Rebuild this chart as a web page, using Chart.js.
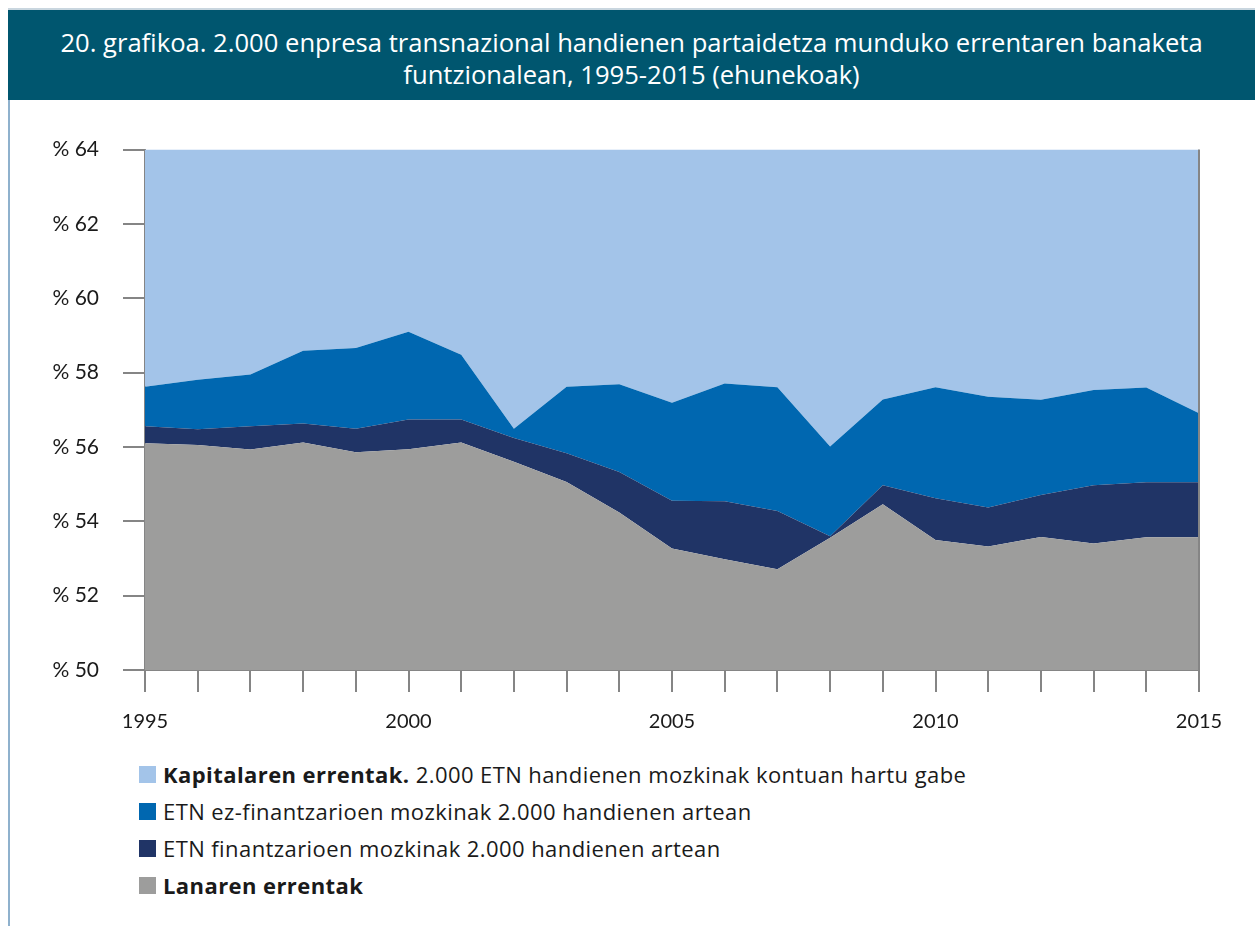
<!DOCTYPE html>
<html lang="eu">
<head>
<meta charset="UTF-8">
<title>20. grafikoa</title>
<script src="https://cdn.jsdelivr.net/npm/chart.js"></script>
<style>
    html, body { margin: 0; padding: 0; background: #ffffff; }
    body { width: 1255px; height: 926px; position: relative; overflow: hidden; font-family: "Open Sans", Lato, sans-serif; }
    .topline { position: absolute; left: 8px; right: 0; top: 8px; height: 2px; background: #c9d6df; }
    .titlebar {
        position: absolute; left: 8px; right: 0; top: 10px; height: 90px; box-sizing: border-box; padding-top: 7px;
        background: #00566f; color: #ffffff;
        display: flex; align-items: center; justify-content: center; text-align: center;
        font-size: 25.6px; line-height: 32px;
    }
    .sideline { position: absolute; left: 8px; top: 100px; width: 2px; bottom: 0; background: #8fb1cd; }
    .chart-box { position: absolute; left: 0; top: 113px; width: 1255px; height: 627px; }
    .legend { position: absolute; left: 139px; top: 756px; font-size: 22px; letter-spacing: 0.42px; color: #1a1a1a; }
    .legend div { height: 37px; line-height: 37px; display: flex; align-items: center; white-space: pre; }
    .legend span.sq { display: inline-block; width: 17px; height: 17px; margin-right: 7px; }
</style>
</head>
<body>
    <div class="topline"></div>
    <div class="titlebar">20. grafikoa. 2.000 enpresa transnazional handienen partaidetza munduko errentaren banaketa<br>funtzionalean, 1995-2015 (ehunekoak)</div>
    <div class="sideline"></div>
    <div class="chart-box"><canvas id="grafikoa"></canvas></div>
    <div class="legend" id="legenda"></div>
<script>
    const urteak = ['1995', '1996', '1997', '1998', '1999', '2000', '2001', '2002', '2003', '2004',
                    '2005', '2006', '2007', '2008', '2009', '2010', '2011', '2012', '2013', '2014', '2015'];

    // munduko errentaren banaketa (%), behetik gora pilatuta
    const lanarenErrentak = [56.10, 56.05, 55.93, 56.12, 55.86, 55.94, 56.12, 55.60, 55.06, 54.24,
                             53.27, 52.98, 52.71, 53.56, 54.46, 53.50, 53.32, 53.58, 53.40, 53.57, 53.57];
    const etnFinantzarioak = [0.46, 0.43, 0.63, 0.51, 0.63, 0.80, 0.62, 0.64, 0.77, 1.09,
                              1.28, 1.56, 1.57, 0.04, 0.51, 1.12, 1.05, 1.13, 1.57, 1.48, 1.48];
    const etnEzFinantzarioak = [1.06, 1.33, 1.39, 1.96, 2.17, 2.36, 1.74, 0.25, 1.79, 2.36,
                                2.64, 3.17, 3.33, 2.41, 2.31, 2.99, 2.98, 2.56, 2.56, 2.55, 1.86];
    const kapitalarenErrentak = [42.38, 42.19, 42.05, 41.41, 41.34, 40.90, 41.52, 43.51, 42.38, 42.31,
                                 42.81, 42.29, 42.39, 44.00, 42.72, 42.39, 42.65, 42.73, 42.47, 42.40, 43.09];

    const yTicks = [50, 52, 54, 56, 58, 60, 62, 64];

    const seriak = [
        { label: 'Lanaren errentak', data: lanarenErrentak, color: '#9d9d9c', bold: 'Lanaren errentak', rest: '' },
        { label: 'ETN finantzarioen mozkinak 2.000 handienen artean', data: etnFinantzarioak, color: '#203466', bold: '', rest: 'ETN finantzarioen mozkinak 2.000 handienen artean' },
        { label: 'ETN ez-finantzarioen mozkinak 2.000 handienen artean', data: etnEzFinantzarioak, color: '#0067b0', bold: '', rest: 'ETN ez-finantzarioen mozkinak 2.000 handienen artean' },
        { label: 'Kapitalaren errentak. 2.000 ETN handienen mozkinak kontuan hartu gabe', data: kapitalarenErrentak, color: '#a3c4e9', bold: 'Kapitalaren errentak.', rest: '2.000 ETN handienen mozkinak kontuan hartu gabe' }
    ];

    // legenda: goiko geruza lehenengo
    const legenda = document.getElementById('legenda');
    seriak.slice().reverse().forEach(s => {
        const row = document.createElement('div');
        const zatiak = [];
        if (s.bold) zatiak.push(`<b>${s.bold}</b>`);
        if (s.rest) zatiak.push(s.rest);
        row.innerHTML = `<span class="sq" style="background:${s.color}"></span>` + zatiak.join(' ');
        legenda.appendChild(row);
    });

    const ardatzKolorea = '#858585';

    // eskuineko ertza
    const ertzaPlugin = {
        id: 'ertza',
        afterDraw(chart) {
            const { ctx, chartArea } = chart;
            ctx.save();
            ctx.strokeStyle = ardatzKolorea;
            ctx.lineWidth = 2;
            ctx.beginPath();
            ctx.moveTo(chartArea.right, chartArea.top);
            ctx.lineTo(chartArea.right, chartArea.bottom);
            ctx.stroke();
            ctx.restore();
        }
    };

    new Chart(document.getElementById('grafikoa'), {
        type: 'line',
        data: {
            labels: urteak,
            datasets: seriak.map((s, i) => ({
                label: s.label,
                data: s.data,
                backgroundColor: s.color,
                borderColor: s.color,
                borderWidth: 0,
                pointRadius: 0,
                tension: 0,
                fill: i === 0 ? 'origin' : '-1'
            }))
        },
        options: {
            responsive: true,
            maintainAspectRatio: false,
            animation: false,
            layout: { padding: { top: 19, right: 56, left: 0, bottom: 0 } },
            plugins: {
                legend: { display: false },
                tooltip: { enabled: false }
            },
            scales: {
                x: {
                    offset: false,
                    afterFit(scale) { scale.height = 70; },
                    grid: { drawOnChartArea: false, tickLength: 22, color: ardatzKolorea, lineWidth: 2 },
                    border: { color: ardatzKolorea, width: 2 },
                    ticks: {
                        autoSkip: false,
                        maxRotation: 0,
                        padding: 18,
                        color: '#1a1a1a',
                        font: { family: 'Lato', size: 20 },
                        callback: function (v) {
                            const y = Number(this.getLabelForValue(v));
                            return y % 5 === 0 ? String(y) : '';
                        }
                    }
                },
                y: {
                    stacked: true,
                    min: 50,
                    max: 64,
                    afterFit(scale) { scale.width = 145; },
                    afterBuildTicks(scale) { scale.ticks = yTicks.map(v => ({ value: v })); },
                    grid: { drawOnChartArea: false, tickLength: 22, color: ardatzKolorea, lineWidth: 2 },
                    border: { color: ardatzKolorea, width: 2 },
                    ticks: {
                        padding: 24,
                        color: '#1a1a1a',
                        font: { family: 'Lato', size: 21 },
                        callback: v => '% ' + v
                    }
                }
            }
        },
        plugins: [ertzaPlugin]
    });
</script>
</body>
</html>
